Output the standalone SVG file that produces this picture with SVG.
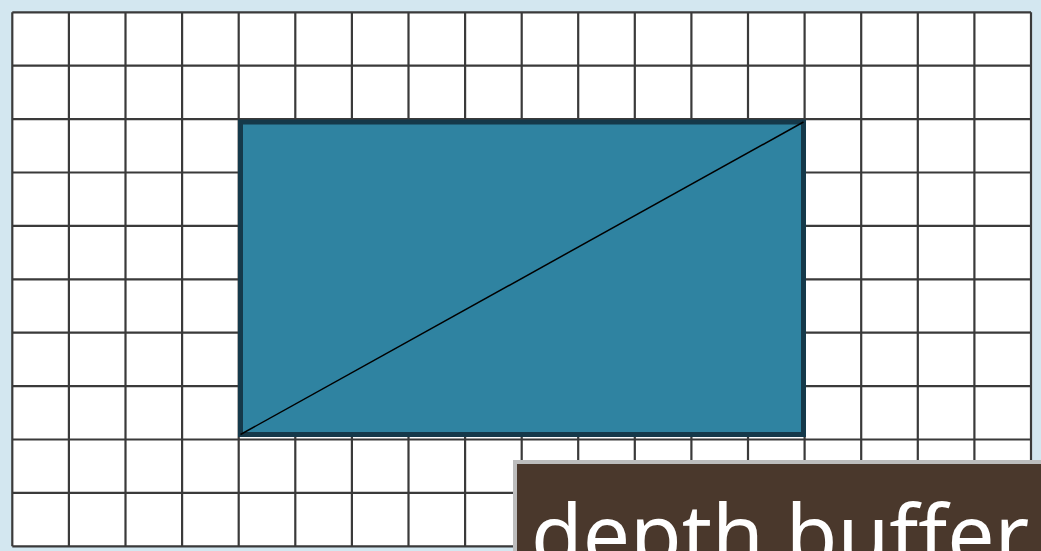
<svg xmlns="http://www.w3.org/2000/svg" width="1041" height="551" viewBox="0 0 1041 551">
<style>
.grid{stroke:#3a3a3a;stroke-width:2.2;fill:none}
.lbl{font-family:"Noto Sans","Open Sans",sans-serif;font-size:84px;fill:#ffffff}
</style>
<rect width="1041" height="551" fill="#d3e7f0"/>
<g id="grid">
<rect x="12.3" y="12.3" width="1018.7" height="534" fill="#ffffff"/>
<path class="grid" d="M12.3 12.3V546.3M68.9 12.3V546.3M125.5 12.3V546.3M182.1 12.3V546.3M238.7 12.3V546.3M295.3 12.3V546.3M351.9 12.3V546.3M408.5 12.3V546.3M465.1 12.3V546.3M521.7 12.3V546.3M578.2 12.3V546.3M634.8 12.3V546.3M691.4 12.3V546.3M748 12.3V546.3M804.6 12.3V546.3M861.2 12.3V546.3M917.8 12.3V546.3M974.4 12.3V546.3M1031 12.3V546.3"/>
<path class="grid" d="M12.3 12.3H1031M12.3 65.7H1031M12.3 119.1H1031M12.3 172.5H1031M12.3 225.9H1031M12.3 279.3H1031M12.3 332.7H1031M12.3 386.1H1031M12.3 439.5H1031M12.3 492.9H1031M12.3 546.3H1031"/>
</g>
<g id="rect">
<rect x="240.5" y="122" width="563" height="312.5" fill="#2f83a1" stroke="#15394a" stroke-width="5"/>
</g>
<g id="connectors">
<line x1="240.5" y1="434.5" x2="803.5" y2="122" stroke="#000000" stroke-width="1.5"/>
</g>
<g id="label">
<rect x="515" y="462" width="530" height="100" fill="#4a382c" stroke="#bdbdbd" stroke-width="4"/>
<text class="lbl" x="531" y="565">depth buffer</text>
</g>
</svg>
